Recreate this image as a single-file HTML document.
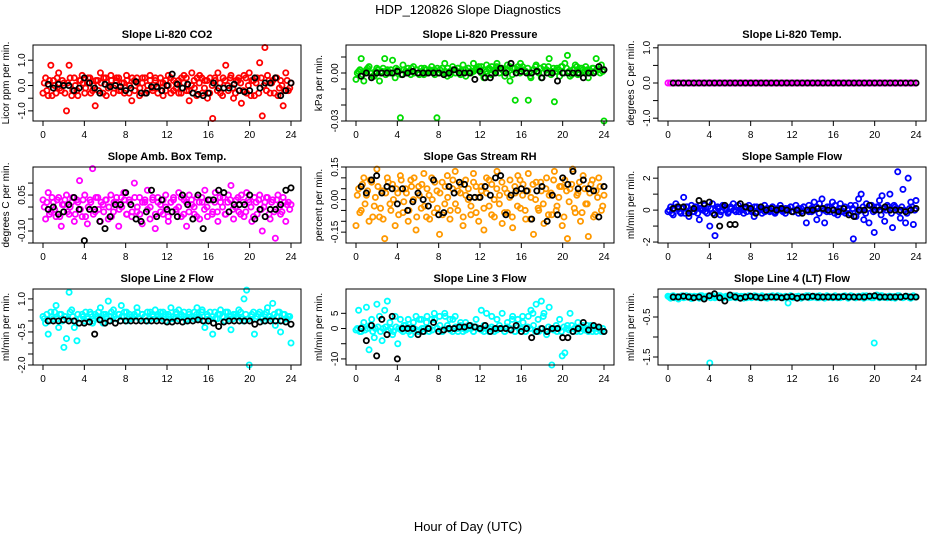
<!DOCTYPE html>
<html><head><meta charset="utf-8">
<style>
body{margin:0;background:#fff;}
svg{display:block;font-family:"Liberation Sans",sans-serif;}
</style></head>
<body>
<svg id="fig" width="936" height="540" viewBox="0 0 936 540">
<rect width="936" height="540" fill="#fff"/>
<text x="468" y="14" text-anchor="middle" font-size="13">HDP_120826  Slope Diagnostics</text>
<text x="468" y="531" text-anchor="middle" font-size="13">Hour of Day (UTC)</text>
</svg>
<script>
const co2 = [-0.3,0.3,-0.4,0.8,0.2,-0.3,0.5,-0.2,0.1,-1.0,0.8,-0.4,0.3,-0.2,0.2,0.4,-0.3,0.1,0.3,-0.2,-0.8,0.2,0.5,-0.3,0.3,-0.1,0.4,-0.3,0.2,0.3,-0.2,0.1,0.4,-0.3,-0.6,0.2,0.3,-0.4,0.1,0.3,-0.2,0.4,-0.1,0.2,-0.3,0.3,0.1,-0.2,0.4,-0.3,0.2,0.1,-0.3,0.3,0.4,-0.2,-0.6,0.5,-0.1,0.3,0.4,-0.3,0.2,-0.5,0.3,-1.3,0.2,0.5,-0.3,0.3,0.8,-0.2,0.4,-0.5,0.2,0.3,-0.7,0.4,-0.3,0.5,0.2,-0.4,0.3,0.9,-1.2,1.5,0.4,-0.3,0.2,0.3,-0.4,0.2,-0.8,0.5,-0.2,0.1];
const co2B = [0.1,-0.2,0.2,-0.4,0.0,0.3,-0.1,0.2,-0.3,0.1,0.3,-0.2,0.0,-0.4,0.2,0.1,-0.1,0.3,-0.3,0.0,0.2,-0.2,0.1,0.3,-0.4,0.0,0.2,-0.1,0.3,-0.2,0.1,-0.3,0.2,0.0,0.3,-0.2,0.1,-0.1,0.3,-0.3,0.0,0.2,-0.2,0.3,-0.1,0.1,-0.4,0.2,0.0,0.3,-0.2,-0.1,0.2,-0.3,0.1,0.3,-0.2,0.0,0.2,-0.4,0.1,0.3,-0.1,0.2,-0.3,0.0,0.3,-0.2,0.1,-0.4,0.2,0.0,0.3,-0.1,-0.3,0.2,0.1,-0.2,0.3,0.0,-0.4,0.2,0.1,-0.3,0.3,0.0,-0.2,0.2,0.1,-0.3,0.3,-0.1,0.0,-0.2,0.2,-0.1];
const co2Ref = [0.05,-0.1,0.05,0,0,-0.2,-0.1,0.3,0.1,-0.1,-0.3,0.05,-0.05,0,-0.05,-0.2,-0.1,0.15,-0.3,-0.3,-0.05,-0.05,-0.2,0,0.45,0.05,-0.1,0.05,-0.3,-0.35,-0.4,-0.3,0.1,-0.1,-0.1,-0.1,0.05,-0.2,-0.25,-0.2,0.3,-0.1,0.1,0.1,0.3,-0.4,-0.2,0.1];
const pres = [-0.004,0.001,0.009,-0.005,0.002,0.004,0,-0.002,0.003,-0.005,0.001,0.009,0.002,0,0.008,-0.003,0.002,-0.028,0.005,0.001,0.003,-0.001,0.004,0.002,0,0.003,-0.001,0.002,0.001,0.004,0.002,-0.028,0,0.003,0.006,-0.002,0.001,0.004,0.002,0.003,-0.001,0.005,0.002,0.003,0.001,0.006,0.003,0.002,0.004,-0.003,0.005,0.002,0.004,0.001,0.006,0.003,0.002,-0.002,0.005,-0.005,0.003,-0.017,0.004,0.006,0.002,0.001,-0.017,-0.003,0.002,0.005,0,-0.003,0.004,0.002,0.009,0.001,-0.018,0.003,-0.002,0.004,0.006,0.011,-0.002,0.002,0.005,-0.001,0.003,0.002,0.004,-0.003,0.001,0.003,0.009,0.002,0.005,-0.03];
const presB = [0,0.002,-0.001,0.001,0.003,0,-0.002,0.001,0.002,0,0.003,-0.001,0.001,0.002,0,0.003,0.001,-0.001,0.002,0,0.001,0.003,0,0.002,-0.001,0.001,0.003,0,0.002,0.001,-0.001,0.003,0.002,0,0.001,0.003,-0.001,0.002,0,0.003,0.001,0.002,-0.002,0.003,0,0.001,0.002,0.004,0,0.002,0.001,0.003,-0.001,0.002,0.004,0,0.003,0.001,0.002,0.004,-0.001,0.003,0.002,0,0.004,0.001,0.003,-0.002,0.002,0.004,0.001,0.003,0,0.002,0.004,-0.001,0.003,0.001,0.002,0.004,0,0.003,0.001,-0.001,0.002,0.004,0,0.003,0.001,0.002,0,0.003,0.001,0.002,0,0.001];
const presRef = [-0.002,0,-0.003,0,0,0,0,0.001,-0.001,0,0.001,0,0,0,0,0,-0.001,0,0.002,0,0,0,-0.004,0.001,-0.003,-0.003,0,0.003,0,0.006,0,0.001,0,0,0.001,-0.003,0,0,-0.005,0,0,0,0,-0.003,0,0,0.004,0.002];
const temp = [0,0,0,0,0,0,0,0,0,0,0,0,0,0,0,0,0,0,0,0,0,0,0,0,0,0,0,0,0,0,0,0,0,0,0,0,0,0,0,0,0,0,0,0,0,0,0,0,0,0,0,0,0,0,0,0,0,0,0,0,0,0,0,0,0,0,0,0,0,0,0,0,0,0,0,0,0,0,0,0,0,0,0,0,0,0,0,0,0,0,0,0,0,0,0,0];
const tempB = [0,0,0,0,0,0,0,0,0,0,0,0,0,0,0,0,0,0,0,0,0,0,0,0,0,0,0,0,0,0,0,0,0,0,0,0,0,0,0,0,0,0,0,0,0,0,0,0];
const tempRef = [0,0,0,0,0,0,0,0,0,0,0,0,0,0,0,0,0,0,0,0,0,0,0,0,0,0,0,0,0,0,0,0,0,0,0,0,0,0,0,0,0,0,0,0,0,0,0,0];
const amb = [0.03,-0.05,0.06,-0.02,0.02,-0.04,0.04,-0.08,0.01,0.05,-0.03,0.02,-0.06,0.03,0.11,-0.04,0.05,-0.07,0.03,0.16,-0.02,0.04,-0.06,0.01,0.03,-0.05,0.05,-0.02,0.02,-0.08,0.04,0.06,-0.03,0.03,-0.04,0.1,-0.02,0.04,-0.07,0.02,0.07,-0.05,0.03,-0.09,0.04,0.01,-0.03,0.05,-0.06,0.02,0.04,-0.02,0.06,-0.04,0.03,-0.08,0.05,0.01,-0.03,0.04,-0.05,0.02,0.07,-0.04,0.03,-0.02,0.06,-0.06,0.02,0.04,-0.03,0.05,0.09,-0.05,0.03,-0.02,0.05,-0.04,0.06,0.02,-0.06,0.04,-0.03,0.05,-0.1,0.02,0.04,-0.05,0.03,-0.13,0.05,-0.03,0.04,-0.06,0.02,0.01];
const ambB = [0.0,0.02,-0.03,0.04,-0.01,0.03,-0.04,0.01,0.03,-0.02,0.0,0.04,-0.03,0.02,-0.01,0.03,-0.04,0.0,0.02,-0.03,0.04,-0.01,0.02,-0.02,0.03,0.0,-0.04,0.02,0.04,-0.01,0.0,0.03,-0.03,0.02,-0.02,0.04,0.0,-0.03,0.02,0.03,-0.01,0.0,0.04,-0.03,0.02,-0.02,0.03,0.0,-0.04,0.02,0.03,-0.01,0.0,0.04,-0.03,0.02,-0.02,0.03,0.0,-0.04,0.02,0.04,-0.01,0.0,0.03,-0.03,0.02,-0.02,0.04,0.0,-0.03,0.02,0.03,-0.01,0.0,0.04,-0.03,0.02,-0.02,0.03,0.0,-0.04,0.02,0.03,-0.01,0.0,0.04,-0.03,0.02,-0.02,0.03,0.0,-0.02,0.02,0.01,-0.01];
const ambRef = [-0.01,0,-0.03,-0.02,0.01,0.04,-0.01,-0.14,-0.01,-0.01,-0.06,-0.09,-0.04,0.01,0.01,0.06,0.01,-0.05,-0.06,-0.02,0.07,-0.04,0.03,-0.01,-0.02,-0.04,0.05,0.01,-0.05,0.05,-0.09,0.03,0.03,0.07,0.06,-0.02,0.01,0.01,0.01,0.05,-0.05,-0.01,-0.04,-0.01,-0.01,0.01,0.07,0.08];
const rh = [-0.12,0.05,-0.05,0.1,0.02,-0.1,0.08,-0.03,0.14,-0.08,0.04,-0.18,0.1,-0.02,0.07,-0.12,0.03,0.11,-0.06,0.05,-0.1,0.09,0.0,-0.14,0.06,-0.04,0.12,-0.08,0.02,0.1,-0.06,0.04,-0.16,0.08,-0.02,0.11,-0.09,0.05,0.13,-0.05,0.03,-0.12,0.09,0.0,-0.07,0.12,0.06,-0.1,0.04,-0.14,0.1,-0.03,0.07,-0.08,0.13,0.02,-0.11,0.05,-0.06,0.09,-0.13,0.03,0.11,-0.04,0.07,-0.09,0.12,0.01,-0.16,0.08,-0.05,0.04,-0.11,0.1,0.02,-0.07,0.13,-0.03,0.06,-0.12,0.09,-0.18,0.05,0.14,-0.06,0.03,-0.1,0.11,-0.02,-0.17,0.07,-0.08,0.04,0.1,-0.05,0.02];
const rhB = [0.02,-0.06,0.07,-0.02,0.04,0.09,-0.08,0.01,0.06,-0.04,-0.09,0.03,0.08,-0.05,0.0,0.05,-0.07,0.09,-0.01,0.03,-0.05,0.06,0.1,-0.08,0.02,0.07,-0.03,0.05,-0.09,0.0,0.08,-0.04,0.03,-0.07,0.06,0.01,-0.05,0.09,-0.02,0.04,0.07,-0.08,0.02,0.05,-0.03,0.08,-0.06,0.01,0.06,-0.04,0.03,0.09,-0.07,0.0,0.05,-0.02,0.08,-0.06,0.03,0.01,-0.08,0.06,-0.03,0.09,0.02,-0.05,0.04,-0.09,0.07,0.0,-0.04,0.08,-0.02,0.05,-0.07,0.03,0.09,-0.05,0.01,0.06,-0.08,0.04,-0.01,0.07,-0.04,0.02,0.08,-0.06,0.05,-0.02,0.03,0.09,-0.07,0.01,0.06,-0.03];
const rhRef = [0.06,0.03,0.09,0.11,0.03,0.06,0.05,-0.02,0.05,-0.05,-0.01,0.03,0.0,-0.03,0.09,-0.07,-0.06,0.06,0.03,0.08,0.07,0.01,0.01,0.01,0.06,0.02,0.1,0.11,-0.07,0.02,0.04,0.05,0.04,-0.09,0.04,0.06,-0.1,0.02,-0.07,0.1,0.07,0.13,0.05,0.09,0.05,0.04,-0.08,0.06];
const sflow = [-0.1,0.2,-0.3,0.4,0.1,-0.2,0.8,0.2,-0.4,0.3,-0.1,0.2,-0.6,0.1,0.3,-0.2,-1.0,0.4,-1.6,0.2,-0.3,0.3,0.1,-0.2,0.2,0.4,-0.1,0.3,0.1,-0.2,0.2,0.3,-0.1,-0.4,0.2,0.1,-0.2,0.3,0.1,-0.1,0.2,-0.2,0.1,0.3,0.0,-0.2,0.1,0.2,-0.1,0.3,-0.2,0.1,0.2,-0.8,0.3,-0.1,0.5,-0.6,0.4,0.7,-0.8,0.2,-0.1,0.5,0.3,-0.3,0.4,-0.1,-0.2,0.1,0.3,-1.8,-0.4,0.7,1.0,-0.6,0.4,-0.8,0.3,-1.4,0.2,0.6,0.9,-0.7,0.3,1.0,-1.1,0.2,2.4,-0.5,1.3,-0.8,2.0,0.5,-0.9,0.6];
const sflowB = [0.0,-0.2,0.1,0.2,-0.1,0.1,-0.2,0.2,0.0,-0.1,0.2,-0.2,0.1,0.0,-0.1,0.2,0.1,-0.2,0.0,0.1,-0.1,0.2,0.0,-0.1,0.1,0.0,0.2,-0.1,0.0,0.1,-0.1,0.1,0.0,0.2,-0.1,0.0,0.1,-0.1,0.1,0.0,0.2,-0.1,0.0,0.1,-0.1,0.1,0.0,0.2,-0.1,0.0,0.1,-0.1,0.2,0.0,-0.1,0.1,0.0,0.2,-0.2,0.1,0.0,-0.1,0.2,0.1,-0.2,0.0,0.1,-0.1,0.2,0.0,-0.2,0.1,0.3,-0.1,0.0,0.2,-0.2,0.1,0.3,-0.1,0.0,0.2,-0.3,0.1,0.0,0.2,-0.2,0.3,0.1,-0.1,0.2,0.0,-0.2,0.1,0.2,0.0];
const sflowRef = [0.1,0.2,0.2,-0.2,0.1,0.6,0.4,0.5,-0.3,-1.0,0.3,-0.9,-0.9,0.4,0.2,0.1,-0.2,0.2,0.0,0.1,0.0,0.1,0.0,-0.1,0.0,-0.2,0.0,0.0,0.1,0.1,0.0,0.0,-0.1,0.1,-0.3,-0.4,0.0,0.0,0.3,0.0,0.0,0.2,0.0,0.0,0.0,-0.1,0.0,0.1];
const line2 = [0.2,-0.1,-0.6,0.4,0.1,0.7,-0.3,0.3,-1.2,-0.8,1.3,0.5,-0.3,-0.9,0.1,0.3,0.0,0.2,0.4,-0.1,0.3,0.2,0.6,-0.1,0.3,0.9,0.2,0.5,0.1,0.3,0.7,0.2,0.4,0.1,0.2,0.3,0.6,0.1,0.3,0.2,0.4,0.1,0.3,0.5,0.2,0.4,0.1,0.3,0.2,0.6,0.1,0.3,0.5,0.2,0.4,0.1,0.3,0.2,0.4,0.6,0.1,0.5,-0.3,0.2,0.4,-0.6,0.1,0.3,0.5,0.2,0.4,0.1,-0.4,0.3,0.2,0.5,0.1,1.0,1.4,-2.0,0.3,-0.6,0.2,0.4,0.1,0.3,0.6,0.2,0.8,-0.2,0.4,-0.5,0.3,0.1,0.2,-1.0];
const line2B = [0.1,0.3,0.0,0.2,0.4,0.1,0.3,0.0,0.2,0.1,0.4,0.2,0.0,0.3,0.1,0.2,0.4,0.1,0.3,0.0,0.2,0.4,0.1,0.3,0.2,0.0,0.4,0.2,0.1,0.3,0.2,0.4,0.0,0.3,0.1,0.2,0.4,0.1,0.3,0.2,0.0,0.4,0.2,0.1,0.3,0.2,0.4,0.0,0.3,0.1,0.2,0.4,0.1,0.3,0.2,0.0,0.4,0.2,0.1,0.3,0.2,0.4,0.0,0.3,0.1,0.2,0.4,0.1,0.3,0.2,0.0,0.4,0.2,0.1,0.3,0.2,0.4,0.0,0.3,0.1,0.2,0.4,0.1,0.3,0.2,0.0,0.4,0.2,0.1,0.3,0.2,0.4,0.0,0.3,0.1,0.2];
const line2Ref = [0,0,0,0.05,0,0,-0.1,-0.1,-0.05,-0.6,0.05,-0.1,0,-0.1,0,0,0,0,0,0,0,0,0,-0.05,-0.05,0,-0.05,0,0,0.05,0,0,-0.1,-0.25,-0.05,0,0,0,0,0,-0.15,-0.05,0,0,0,0,-0.05,-0.15];
const line3 = [-0.5,6,-1,2,7,-7,3,-3,8,4,-4,6,9,2,-2,4,-5,3,-1,1,3,-2,2,4,-1,3,0,2,-1,3,5,0,4,-1,5,1,3,-1,4,0,1,-1,2,0,1,-1,3,0,6,-1,5,0,4,-1,3,0,5,-1,2,0,4,-1,3,0,2,-1,4,6,1,8,-1,9,5,-2,7,-12,0,-1,3,-9,-8,1,5,-1,0,2,-1,1,0,-1,1,0,-1,0,-1,-1];
const line3B = [0,-1,0.5,-0.5,0,1,-1,0,0.5,-1,0,0.5,-0.5,0,-1,0.5,0,-0.5,1,0,-1,0.5,0,-0.5,3,0,-1,4,0,-0.5,3,0,1,-1,4,0,-0.5,3,0.5,-1,2,0,-0.5,1,0,-1,0.5,0,-0.5,1,0,-1,0.5,0,-0.5,1,0,-1,0.5,0,3,-1,0.5,0,4,-1,0.5,0,5,-1,3,0,4,-1,0.5,0,-0.5,1,0,-1,0.5,0,-0.5,1,0,-1,0.5,0,-0.5,1,0,-1,0.5,0,-0.5,0];
const line3Ref = [0,-4,1,-9,3,-2,4,-10,0,0,0,-2,-1,0,2,-1,-0.5,0,0,0.5,0.5,1,0.5,0,1,-1,0,0,0,-0.5,1,-1,0,-3,-1,0,-1,0,0,-3,-3,-1,0,2,-0.5,1,0.5,-1];
const line4 = [0.02,-0.03,0.03,0,-0.05,0.02,-0.02,0.03,0,-0.04,0.02,0.01,-0.03,0.03,0,0.02,-1.65,0.03,-0.02,0.01,0.03,-0.03,0,0.02,-0.01,0.03,-0.02,0.01,0.02,-0.03,0,0.03,-0.02,0.01,0.02,-0.02,0.03,0,-0.03,0.02,0.01,-0.02,0.03,0,-0.02,0.02,-0.15,0.03,-0.02,0.01,0.02,-0.03,0,0.03,-0.02,0.01,0.02,-0.02,0.03,0,-0.03,0.02,0.01,-0.02,0.03,0,-0.02,0.02,0.01,-0.03,0.03,0,-0.02,0.02,0.01,-0.03,0.03,0,-0.02,-1.15,0.05,-0.02,0.03,0,-0.02,0.02,0.01,-0.03,0.03,0,-0.02,0.02,0.01,-0.03,0.03,0];
const line4B = [0,0.02,-0.02,0.01,0,0.03,-0.01,0,0.02,-0.02,0.01,0,0.03,-0.01,0,0.02,-0.02,0.01,0,0.03,-0.01,0,0.02,-0.02,0.01,0,0.03,-0.01,0,0.02,-0.02,0.01,0,0.03,-0.01,0,0.02,-0.02,0.01,0,0.03,-0.01,0,0.02,-0.02,0.01,0,0.03,-0.01,0,0.02,-0.02,0.01,0,0.03,-0.01,0,0.02,-0.02,0.01,0,0.03,-0.01,0,0.02,-0.02,0.01,0,0.03,-0.01,0,0.02,-0.02,0.01,0,0.03,-0.01,0,0.02,-0.02,0.01,0,0.03,-0.01,0,0.02,-0.02,0.01,0,0.03,-0.01,0,0.02,-0.02,0.01,0];
const line4Ref = [0,0,0.02,0,-0.02,0,-0.05,0.03,0.08,-0.02,-0.1,0.05,0,-0.03,0,0.02,0,-0.02,0,0,0,-0.02,0,0.01,-0.03,0,0,0.02,0,0,0,0,0,0.01,0,0,0,0,0.02,0.03,0,0,0,0,0,0.02,0,0];
const xTicks = [0,4,8,12,16,20,24];

const panels = [
 {id:'co2',title:'Slope Li-820 CO2',ylab:'Licor ppm per min.',y0:-1.4,y1:1.6,ticks:[-1,-0.5,0,0.5,1],labels:['-1.0','','0.0','','1.0'],col:'#ff0000',d:co2,b:co2B,r:co2Ref},
 {id:'pressure',title:'Slope Li-820 Pressure',ylab:'kPa per min.',y0:-0.03,y1:0.0175,ticks:[-0.03,-0.02,-0.01,0,0.01],labels:['-0.03','','','0.00',''],col:'#00dd00',d:pres,b:presB,r:presRef},
 {id:'li820-temp',title:'Slope Li-820 Temp.',ylab:'degrees C per min.',y0:-1.08,y1:1.08,ticks:[-1,-0.5,0,0.5,1],labels:['-1.0','','0.0','','1.0'],col:'#ff00ff',d:temp,b:tempB,r:tempRef},
 {id:'amb-box-temp',title:'Slope Amb. Box Temp.',ylab:'degrees C per min.',y0:-0.15,y1:0.167,ticks:[-0.15,-0.1,-0.05,0,0.05,0.1],labels:['','-0.10','','','0.05',''],col:'#ff00ff',d:amb,b:ambB,r:ambRef},
 {id:'gas-stream-rh',title:'Slope Gas Stream RH',ylab:'percent per min.',y0:-0.2,y1:0.15,ticks:[-0.15,-0.1,-0.05,0,0.05,0.1,0.15],labels:['-0.15','','','0.00','','','0.15'],col:'#ff9900',d:rh,b:rhB,r:rhRef},
 {id:'sample-flow',title:'Slope Sample Flow',ylab:'ml/min per min.',y0:-2.06,y1:2.7,ticks:[-2,-1,0,1,2],labels:['-2','','0','','2'],col:'#0000ff',d:sflow,b:sflowB,r:sflowRef},
 {id:'line2-flow',title:'Slope Line 2 Flow',ylab:'ml/min per min.',y0:-2.0,y1:1.45,ticks:[-2,-1.5,-1,-0.5,0,0.5,1],labels:['-2.0','','','-0.5','','','1.0'],col:'#00ffff',d:line2,b:line2B,r:line2Ref},
 {id:'line3-flow',title:'Slope Line 3 Flow',ylab:'ml/min per min.',y0:-12,y1:13,ticks:[-10,-5,0,5],labels:['-10','','0','5'],col:'#00ffff',d:line3,b:line3B,r:line3Ref},
 {id:'line4-flow',title:'Slope Line 4 (LT) Flow',ylab:'ml/min per min.',y0:-1.7,y1:0.2,ticks:[-1.5,-1,-0.5,0],labels:['-1.5','','-0.5',''],col:'#00ffff',d:line4,b:line4B,r:line4Ref}
];
const NS='http://www.w3.org/2000/svg';
const svg=document.getElementById('fig');
function mk(tag,attrs,parent){const e=document.createElementNS(NS,tag);for(const k in attrs)e.setAttribute(k,attrs[k]);parent.appendChild(e);return e;}
const lefts=[33,346,658], tops=[45,167,289], W=268, H=76;
panels.forEach((p,i)=>{
  const L=lefts[i%3], T=tops[Math.floor(i/3)];
  const g=mk('g',{},svg);
  
  
  const xs=v=>L+10+v*(W-20)/24;
  const ys=v=>T+H-(v-p.y0)/(p.y1-p.y0)*H;
  const t=mk('text',{x:L+W/2,y:T-7,'text-anchor':'middle','font-size':'11','font-weight':'bold'},g);
  t.textContent=p.title;
  
  
  const yl=mk('text',{x:0,y:0,'text-anchor':'middle','font-size':'10',transform:`translate(${L-24},${T+H/2}) rotate(-90)`},g);
  yl.textContent=p.ylab;
  
  
  const pg=mk('g',{},g);
  
  
  p.b.forEach((v,j)=>{
    const c=mk('circle',{cx:xs((j+0.5)*24/p.b.length),cy:ys(v),r:2.6,fill:'none',stroke:p.col,'stroke-width':1.8},pg);
    
    
  });
  p.d.forEach((v,j)=>{
    const c=mk('circle',{cx:xs(j*24/(p.d.length-1)),cy:ys(v),r:2.6,fill:'none',stroke:p.col,'stroke-width':1.8},pg);
    
    
  });
  const bg=mk('g',{},g);
  
  
  p.r.forEach((v,j)=>{
    const c=mk('circle',{cx:xs((j+1)*0.5),cy:ys(v),r:2.6,fill:'none',stroke:'#000','stroke-width':1.8},bg);
    
    
  });
  const box=mk('rect',{x:L,y:T,width:W,height:H,fill:'none',stroke:'#000','stroke-width':1},g);
  
  
  xTicks.forEach(v=>{
    mk('line',{x1:xs(v),x2:xs(v),y1:T+H,y2:T+H+5,stroke:'#000'},g);
    const tl=mk('text',{x:xs(v),y:T+H+17,'text-anchor':'middle','font-size':'10'},g);
    tl.textContent=v;
    
    
  });
  p.ticks.forEach((v,k)=>{
    mk('line',{x1:L-5,x2:L,y1:ys(v),y2:ys(v),stroke:'#000'},g);
    if(p.labels[k]){
      const tl=mk('text',{x:0,y:0,'text-anchor':'middle','font-size':'10',transform:`translate(${L-8},${ys(v)}) rotate(-90)`},g);
      tl.textContent=p.labels[k];
      
      
    }
  });
});
</script>
</body></html>
